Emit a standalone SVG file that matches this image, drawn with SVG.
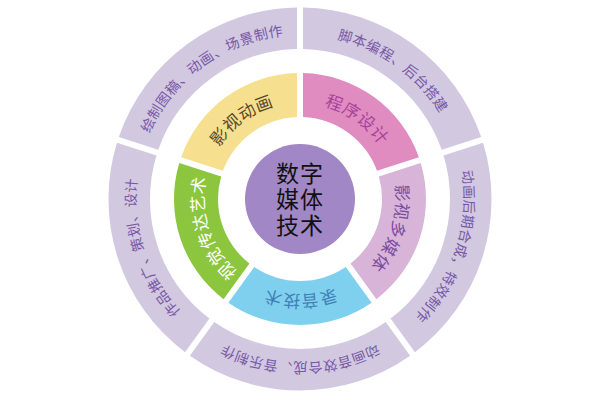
<svg xmlns="http://www.w3.org/2000/svg" xmlns:xlink="http://www.w3.org/1999/xlink" width="600" height="400" viewBox="0 0 600 400">
<style>
text { font-family: "Noto Sans CJK SC", "Noto Sans", sans-serif; dominant-baseline: central; }
.outer { fill: #d2c8e0; }
.otxt { font-size: 14px; letter-spacing: 1px; fill: #7858a6; text-anchor: middle; }
.mtxt { font-size: 17px; letter-spacing: 2px; text-anchor: middle; }
</style>
<defs>
<path id="segO" d="M303,7.52 A191.5,191.5 0 0 1 481.18,136.98 L441.71,149.81 A150,150 0 0 0 303,49.03 Z"/>
<path id="segM" d="M303,73.04 A126,126 0 0 1 418.87,157.22 L377.01,170.82 A82,82 0 0 0 303,117.06 Z"/>
<path id="ringO" d="M300,29 A170,170 0 1 1 300,369 A170,170 0 1 1 300,29"/>
<path id="ringM" d="M300,95 A104,104 0 1 1 300,303 A104,104 0 1 1 300,95"/>
</defs>
<rect width="600" height="400" fill="#ffffff"/>

<g id="outer-script">
<use href="#segO" class="outer"/>
<text class="otxt"><textPath href="#ringO" startOffset="10%">脚本编程、后台搭建</textPath></text>
</g>
<g id="outer-post">
<use href="#segO" class="outer" transform="rotate(72 300 199)"/>
<text class="otxt"><textPath href="#ringO" startOffset="30%">动画后期合成，特效制作</textPath></text>
</g>
<g id="outer-sound">
<use href="#segO" class="outer" transform="rotate(144 300 199)"/>
<text class="otxt"><textPath href="#ringO" startOffset="50%">动画音效合成、音乐制作</textPath></text>
</g>
<g id="outer-promo">
<use href="#segO" class="outer" transform="rotate(216 300 199)"/>
<text class="otxt"><textPath href="#ringO" startOffset="70%">作品推广、策划、设计</textPath></text>
</g>
<g id="outer-draw">
<use href="#segO" class="outer" transform="rotate(288 300 199)"/>
<text class="otxt"><textPath href="#ringO" startOffset="90%">绘制图稿、动画、场景制作</textPath></text>
</g>

<g id="mid-program">
<use href="#segM" fill="#e08cc1"/>
<text class="mtxt" fill="#a8439a"><textPath href="#ringM" startOffset="10%">程序设计</textPath></text>
</g>
<g id="mid-multimedia">
<use href="#segM" fill="#d9b4d9" transform="rotate(72 300 199)"/>
<text class="mtxt" fill="#7a4e9e"><textPath href="#ringM" startOffset="30%">影视多媒体</textPath></text>
</g>
<g id="mid-recording">
<use href="#segM" fill="#7fd0ee" transform="rotate(144 300 199)"/>
<text class="mtxt" fill="#3f7fb5"><textPath href="#ringM" startOffset="50%">录音技术</textPath></text>
</g>
<g id="mid-visual">
<use href="#segM" fill="#8cc63f" transform="rotate(216 300 199)"/>
<text class="mtxt" fill="#ffffff"><textPath href="#ringM" startOffset="70%">视觉传达艺术</textPath></text>
</g>
<g id="mid-animation">
<use href="#segM" fill="#f6df8e" transform="rotate(288 300 199)"/>
<text class="mtxt" fill="#5a4a2a"><textPath href="#ringM" startOffset="90%">影视动画</textPath></text>
</g>

<g id="center">
<circle cx="300" cy="199" r="55" fill="#a187c5"/>
<text x="300" y="172" font-size="23" letter-spacing="1" text-anchor="middle" fill="#111111">数字</text>
<text x="300" y="198" font-size="23" letter-spacing="1" text-anchor="middle" fill="#111111">媒体</text>
<text x="300" y="224" font-size="23" letter-spacing="1" text-anchor="middle" fill="#111111">技术</text>
</g>
</svg>
